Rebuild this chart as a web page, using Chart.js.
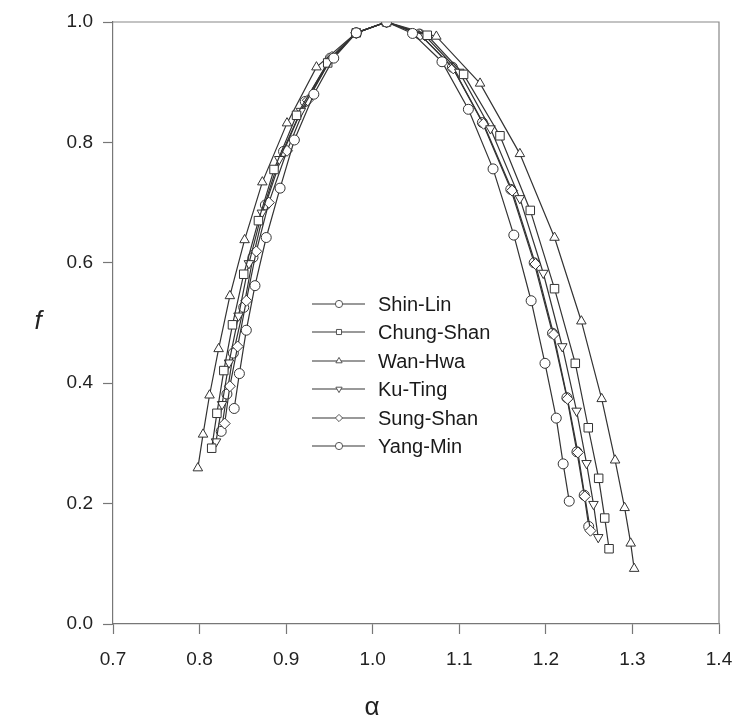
<!DOCTYPE html>
<html>
<head>
<meta charset="utf-8">
<script src="https://cdn.jsdelivr.net/npm/chart.js@4/dist/chart.umd.min.js"></script>
<style>
  html, body { margin: 0; padding: 0; background: #fff; }
  #wrap { width: 732px; height: 725px; }
</style>
</head>
<body>
<div id="wrap"><canvas id="fa"></canvas></div>
<script>
// multifractal spectra f(alpha) (q = +10 ... -10)
const seriesNames = ['Shin-Lin', 'Chung-Shan', 'Wan-Hwa', 'Ku-Ting', 'Sung-Shan', 'Yang-Min'];

const alphaShinLin = [0.840, 0.846, 0.854, 0.864, 0.877, 0.893, 0.9095, 0.932, 0.955, 0.981, 1.016,
                      1.046, 1.080, 1.1105, 1.139, 1.163, 1.183, 1.199, 1.212, 1.220, 1.227];
const fShinLin     = [0.358, 0.416, 0.488, 0.562, 0.642, 0.724, 0.804, 0.880, 0.940, 0.982, 1.000,
                      0.981, 0.934, 0.855, 0.756, 0.646, 0.537, 0.433, 0.342, 0.266, 0.204];

const alphaChungShan = [0.814, 0.820, 0.828, 0.838, 0.851, 0.868, 0.886, 0.912, 0.948, 0.981, 1.016,
                        1.063, 1.105, 1.147, 1.182, 1.210, 1.234, 1.249, 1.261, 1.268, 1.273];
const fChungShan     = [0.292, 0.350, 0.421, 0.497, 0.581, 0.670, 0.755, 0.845, 0.932, 0.982, 1.000,
                        0.978, 0.913, 0.811, 0.687, 0.557, 0.433, 0.326, 0.242, 0.176, 0.125];

const alphaWanHwa = [0.798, 0.804, 0.8115, 0.822, 0.835, 0.852, 0.8725, 0.901, 0.935, 0.981, 1.016,
                     1.0735, 1.124, 1.170, 1.210, 1.241, 1.2645, 1.280, 1.291, 1.298, 1.302];
const fWanHwa     = [0.259, 0.315, 0.380, 0.457, 0.545, 0.638, 0.734, 0.832, 0.925, 0.982, 1.000,
                     0.976, 0.898, 0.781, 0.642, 0.503, 0.374, 0.272, 0.193, 0.134, 0.092];

const alphaKuTing = [0.819, 0.826, 0.834, 0.845, 0.857, 0.872, 0.892, 0.917, 0.949, 0.981, 1.016,
                     1.060, 1.100, 1.136, 1.170, 1.197, 1.219, 1.2355, 1.247, 1.255, 1.2605];
const fKuTing     = [0.303, 0.365, 0.434, 0.512, 0.599, 0.683, 0.772, 0.852, 0.933, 0.982, 1.000,
                     0.978, 0.917, 0.823, 0.707, 0.583, 0.461, 0.354, 0.267, 0.199, 0.144];

const alphaSungShan = [0.829, 0.835, 0.844, 0.854, 0.8655, 0.880, 0.901, 0.925, 0.953, 0.981, 1.016,
                       1.055, 1.093, 1.128, 1.161, 1.188, 1.209, 1.225, 1.237, 1.245, 1.2515];
const fSungShan     = [0.333, 0.395, 0.461, 0.537, 0.619, 0.700, 0.786, 0.870, 0.942, 0.982, 1.000,
                       0.979, 0.923, 0.831, 0.720, 0.598, 0.481, 0.374, 0.285, 0.212, 0.155];

const alphaYangMin = [0.825, 0.8316, 0.839, 0.851, 0.8617, 0.876, 0.897, 0.922, 0.951, 0.981, 1.016,
                      1.054, 1.092, 1.1267, 1.1595, 1.1865, 1.2077, 1.2243, 1.2359, 1.2443, 1.2495];
const fYangMin     = [0.320, 0.382, 0.450, 0.526, 0.609, 0.696, 0.785, 0.868, 0.940, 0.982, 1.000,
                      0.980, 0.925, 0.833, 0.722, 0.600, 0.483, 0.376, 0.286, 0.214, 0.162];

const xTicks = [0.7, 0.8, 0.9, 1.0, 1.1, 1.2, 1.3, 1.4];
const yTicks = [0.0, 0.2, 0.4, 0.6, 0.8, 1.0];

const alphas = [alphaShinLin, alphaChungShan, alphaWanHwa, alphaKuTing, alphaSungShan, alphaYangMin];
const fs = [fShinLin, fChungShan, fWanHwa, fKuTing, fSungShan, fYangMin];
const markers = [
    { style: 'circle', radius: 5, rotation: 0 },
    { style: 'rect', radius: 6, rotation: 0 },
    { style: 'triangle', radius: 5.5, rotation: 0 },
    { style: 'triangle', radius: 5.5, rotation: 180 },
    { style: 'rectRot', radius: 5.5, rotation: 0 },
    { style: 'circle', radius: 5, rotation: 0 }
];

const FONT = '"Liberation Sans", Arial, sans-serif';
const LINE = '#333';

const datasets = seriesNames.map((name, i) => ({
    label: name,
    data: alphas[i].map((a, j) => ({ x: a, y: fs[i][j] })),
    borderColor: LINE,
    borderWidth: 1.2,
    pointStyle: markers[i].style,
    pointRadius: markers[i].radius,
    pointRotation: markers[i].rotation,
    pointBackgroundColor: '#fff',
    pointBorderColor: '#333',
    pointBorderWidth: 1,
    fill: false,
    tension: 0
}));

function drawShape(ctx, style, rot, x, y) {
    ctx.save();
    ctx.fillStyle = '#fff';
    ctx.strokeStyle = '#555';
    ctx.lineWidth = 1;
    Chart.helpers.drawPoint(ctx, { pointStyle: style, rotation: rot, radius: 3.6, borderWidth: 1 }, x, y);
    ctx.restore();
}

// frame, legend and axis titles
const extras = {
    id: 'extras',
    afterDraw(chart) {
        const ctx = chart.ctx;
        const a = chart.chartArea;
        ctx.save();
        ctx.strokeStyle = '#888';
        ctx.lineWidth = 1.2;
        ctx.beginPath();
        ctx.moveTo(a.left, a.top);
        ctx.lineTo(a.right, a.top);
        ctx.lineTo(a.right, a.bottom);
        ctx.stroke();

        // legend
        const x0 = 312, x1 = 365, mx = 339, tx = 378;
        const rows = [304, 332, 361, 389, 418, 446];
        ctx.font = '20px ' + FONT;
        ctx.textBaseline = 'middle';
        chart.data.datasets.forEach((ds, i) => {
            const y = rows[i];
            ctx.strokeStyle = '#777';
            ctx.lineWidth = 1.3;
            ctx.beginPath();
            ctx.moveTo(x0, y);
            ctx.lineTo(x1, y);
            ctx.stroke();
            drawShape(ctx, ds.pointStyle, ds.pointRotation, mx, y);
            ctx.fillStyle = '#1a1a1a';
            ctx.fillText(ds.label, tx, y + 1);
        });

        // axis titles
        ctx.fillStyle = '#222';
        ctx.textAlign = 'center';
        ctx.font = '26px ' + FONT;
        ctx.fillText('\u03b1', 372, 708);
        ctx.font = 'italic 26px ' + FONT;
        ctx.fillText('f', 38, 322);
        ctx.restore();
    }
};

new Chart(document.getElementById('fa'), {
    type: 'line',
    data: { datasets },
    plugins: [extras],
    options: {
        responsive: true,
        maintainAspectRatio: false,
        animation: false,
        layout: { padding: { top: 22, right: 1, left: 0, bottom: 0 } },
        plugins: { legend: { display: false }, tooltip: { enabled: false } },
        scales: {
            x: {
                type: 'linear',
                min: 0.7, max: 1.4,
                afterBuildTicks: s => { s.ticks = xTicks.map(v => ({ value: v })); },
                afterFit: s => { s.height = 101; s.paddingRight = 13; s.paddingLeft = 0; },
                border: { display: true, color: '#777', width: 1.2 },
                grid: { drawOnChartArea: false, drawTicks: true, tickLength: 10, color: '#777', tickWidth: 1.2 },
                ticks: {
                    padding: 14,
                    color: '#222',
                    font: { family: FONT, size: 19 },
                    callback: v => v.toFixed(1)
                }
            },
            y: {
                type: 'linear',
                min: 0, max: 1,
                afterBuildTicks: s => { s.ticks = yTicks.map(v => ({ value: v })); },
                afterFit: s => { s.width = 113; },
                border: { display: true, color: '#777', width: 1.2 },
                grid: { drawOnChartArea: false, drawTicks: true, tickLength: 10, color: '#777', tickWidth: 1.2 },
                ticks: {
                    padding: 10,
                    color: '#222',
                    font: { family: FONT, size: 19 },
                    callback: v => v.toFixed(1)
                }
            }
        }
    }
});
</script>
</body>
</html>
